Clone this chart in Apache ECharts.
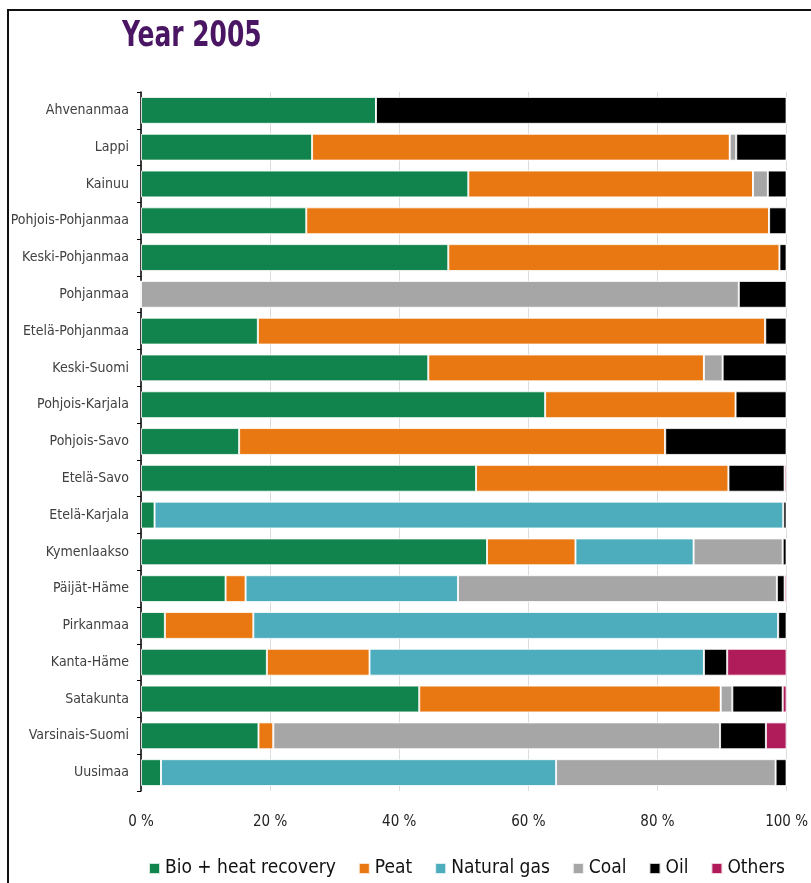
<!DOCTYPE html>
<html>
<head>
<meta charset="utf-8">
<script src="https://cdn.jsdelivr.net/npm/echarts@6/dist/echarts.min.js"></script>
<style>
  html, body { margin: 0; padding: 0; background: #fff; }
  #chart { width: 811px; height: 883px; }
</style>
</head>
<body>
<div id="chart"></div>
<script>
// regions, top to bottom
var regions = ['Ahvenanmaa', 'Lappi', 'Kainuu', 'Pohjois-Pohjanmaa', 'Keski-Pohjanmaa', 'Pohjanmaa',
  'Etelä-Pohjanmaa', 'Keski-Suomi', 'Pohjois-Karjala', 'Pohjois-Savo', 'Etelä-Savo', 'Etelä-Karjala',
  'Kymenlaakso', 'Päijät-Häme', 'Pirkanmaa', 'Kanta-Häme', 'Satakunta', 'Varsinais-Suomi', 'Uusimaa'];

// shares in %
var bio     = [36.4, 26.5, 50.7, 25.6, 47.6, 0,    18.1, 44.5, 62.6, 15.2, 51.9, 2.1,  53.6, 13.1, 3.7,  19.5, 43.1, 18.2, 3.1];
var peat    = [0,    64.7, 44.1, 71.7, 51.3, 0,    78.6, 42.7, 29.5, 66.0, 39.1, 0,    13.7, 3.1,  13.7, 15.9, 46.7, 2.3,  0];
var gas     = [0,    0,    0,    0,    0,    0,    0,    0,    0,    0,    0,    97.4, 18.3, 32.9, 81.3, 51.8, 0,    0,    61.2];
var coal    = [0,    1.0,  2.3,  0,    0,    92.6, 0,    2.9,  0,    0,    0,    0,    13.8, 49.4, 0,    0,    1.8,  69.2, 34.0];
var oil     = [63.6, 7.8,  2.9,  2.7,  1.1,  7.4,  3.3,  9.9,  7.9,  18.8, 8.7,  0.5,  0.6,  1.2,  1.3,  3.6,  7.8,  7.1,  1.7];
var others  = [0,    0,    0,    0,    0,    0,    0,    0,    0,    0,    0.3,  0,    0,    0.3,  0,    9.2,  0.6,  3.2,  0];

var xTicks = [0, 20, 40, 60, 80, 100];

var names = ['Bio + heat recovery', 'Peat', 'Natural gas', 'Coal', 'Oil', 'Others'];
var colors = ['#10844c', '#e97812', '#4eadbc', '#a6a6a6', '#000000', '#b01c5a'];
var values = [bio, peat, gas, coal, oil, others];

var font = "'Liberation Sans Narrow', 'DejaVu Sans Condensed', sans-serif";

var series = names.map(function (n, i) {
  return {
    name: n,
    type: 'bar',
    stack: 'total',
    barCategoryGap: '27%',
    data: values[i],
    itemStyle: { color: colors[i], borderColor: 'rgba(255,255,255,0.8)', borderWidth: 1 }
  };
});

var myChart = echarts.init(document.getElementById('chart'));
var option = {
  animation: false,
  color: colors,
  graphic: [{
    type: 'rect',
    shape: { x: 8, y: 10, width: 900, height: 900 },
    style: { fill: 'none', stroke: '#111', lineWidth: 2 },
    silent: true
  }, {
    // title, squeezed to look like the condensed original
    type: 'text',
    x: 122,
    y: 19,
    scaleX: 0.77,
    style: {
      text: 'Year 2005',
      font: "bold 36px " + font,
      fill: '#4a1562'
    },
    silent: true
  }],
  legend: {
    data: names,
    left: 143,
    top: 854,
    icon: 'rect',
    itemWidth: 11,
    itemHeight: 11,
    itemGap: 22,
    textStyle: { fontFamily: font, fontSize: 19, color: '#111' }
  },
  grid: { left: 141, right: 19, top: 92, bottom: 92, containLabel: false },
  xAxis: {
    type: 'value',
    min: 0,
    max: 100,
    interval: 20,
    axisLine: { show: false },
    axisTick: { show: false },
    axisLabel: {
      margin: 24,
      fontFamily: font,
      fontSize: 15,
      color: '#222',
      formatter: function (v) { return xTicks.indexOf(v) >= 0 ? v + ' %' : ''; }
    },
    splitLine: { show: true, lineStyle: { color: '#dcdcdc', width: 1 } }
  },
  yAxis: {
    type: 'category',
    inverse: true,
    data: regions,
    axisLine: { show: true, lineStyle: { color: '#000', width: 1.5 } },
    axisTick: { show: true, length: 4, lineStyle: { color: '#000' } },
    axisLabel: { margin: 12, fontFamily: font, fontSize: 14, color: '#404040' }
  },
  series: series
};
myChart.setOption(option);
window.addEventListener('resize', function () {
  myChart.resize();
});
</script>
</body>
</html>
